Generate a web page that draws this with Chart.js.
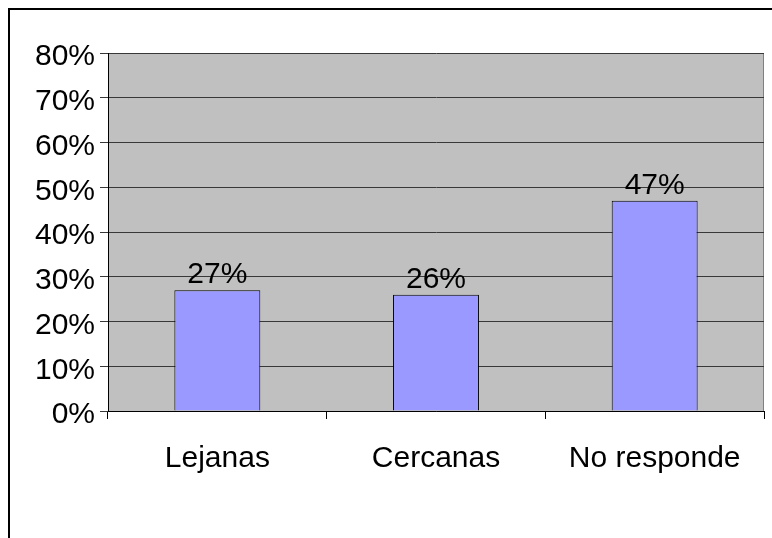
<!DOCTYPE html>
<html lang="es">
<head>
  <meta charset="UTF-8">
  <title>Lejanas / Cercanas / No responde</title>
  <script src="https://cdn.jsdelivr.net/npm/chart.js"></script>
  <style>
    html, body {
      margin: 0;
      padding: 0;
      overflow: hidden;
      background: #fff;
    }
    .marco {
      position: absolute;
      left: 8px;
      top: 8px;
      width: 800px;
      height: 600px;
      border: 2px solid #000;
    }
    .grafico {
      position: absolute;
      left: 0;
      top: 0;
      width: 772px;
      height: 538px;
    }
  </style>
</head>
<body>
  <div class="marco"></div>
  <div class="grafico">
    <canvas id="respuestasChart"></canvas>
  </div>

  <script>
    var categorias = ["Lejanas", "Cercanas", "No responde"];
    var porcentajes = [27, 26, 47];
    var ejeY = [0, 10, 20, 30, 40, 50, 60, 70, 80];

    var fuente = "'Liberation Sans', Arial, sans-serif";

    // fondo gris del área de trazado
    var fondoArea = {
      id: "fondoArea",
      beforeDraw: function (chart) {
        var a = chart.chartArea;
        var ctx = chart.ctx;
        ctx.save();
        ctx.fillStyle = "#C0C0C0";
        ctx.fillRect(a.left, a.top, a.right - a.left, a.bottom - a.top);
        ctx.strokeStyle = "#808080";
        ctx.lineWidth = 1;
        ctx.beginPath();
        ctx.moveTo(a.right - 0.5, a.top);
        ctx.lineTo(a.right - 0.5, a.bottom);
        ctx.stroke();
        ctx.restore();
      }
    };

    // porcentaje encima de cada barra
    var etiquetas = {
      id: "etiquetas",
      afterDatasetsDraw: function (chart) {
        var ctx = chart.ctx;
        var meta = chart.getDatasetMeta(0);
        ctx.save();
        ctx.font = "30px " + fuente;
        ctx.fillStyle = "#000";
        ctx.textAlign = "center";
        ctx.textBaseline = "alphabetic";
        meta.data.forEach(function (bar, i) {
          ctx.fillText(porcentajes[i] + "%", bar.x, bar.y - 7);
        });
        ctx.restore();
      }
    };

    var ctx = document.getElementById("respuestasChart").getContext("2d");
    var respuestasChart = new Chart(ctx, {
      type: "bar",
      data: {
        labels: categorias,
        datasets: [{
          data: porcentajes,
          backgroundColor: "#9999FF",
          borderColor: "#000",
          borderWidth: 1,
          barPercentage: 0.393,
          categoryPercentage: 1
        }]
      },
      options: {
        responsive: true,
        maintainAspectRatio: false,
        animation: false,
        layout: {
          padding: { top: 53, right: 8, left: 0, bottom: 0 }
        },
        plugins: {
          legend: { display: false },
          tooltip: { enabled: false }
        },
        scales: {
          x: {
            offset: true,
            grid: {
              offset: true,
              drawOnChartArea: false,
              drawTicks: true,
              tickLength: 8,
              color: "#000"
            },
            border: { color: "#000", width: 1 },
            ticks: {
              color: "#000",
              padding: 22,
              font: { family: fuente, size: 30 }
            },
            afterFit: function (axis) {
              axis.height = 127;
            }
          },
          y: {
            min: ejeY[0],
            max: ejeY[ejeY.length - 1],
            afterBuildTicks: function (axis) {
              axis.ticks = ejeY.map(function (v) { return { value: v }; });
            },
            grid: {
              color: "#383838",
              tickLength: 8,
              drawTicks: true
            },
            border: { color: "#000", width: 1 },
            ticks: {
              color: "#000",
              padding: 5,
              labelOffset: 4,
              font: { family: fuente, size: 30 },
              callback: function (v) { return v + "%"; }
            },
            afterFit: function (axis) {
              axis.width = 108;
            }
          }
        }
      },
      plugins: [fondoArea, etiquetas]
    });
  </script>
</body>
</html>
